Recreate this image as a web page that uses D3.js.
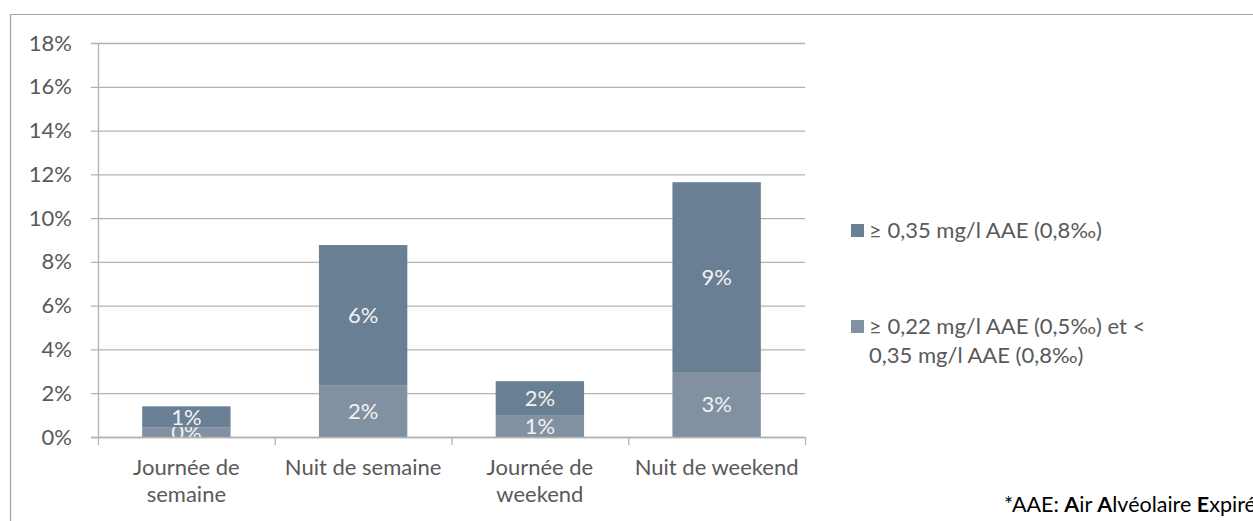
<!DOCTYPE html>
<html lang="fr">
<head>
  <meta charset="UTF-8">
  <title>Taux d'alcoolémie</title>
  <script src="https://d3js.org/d3.v7.min.js"></script>
  <style>
    body {
      margin: 0;
      padding: 0;
      background: #fff;
      font-family: Lato, 'Open Sans', sans-serif;
    }
    svg { display: block; }
  </style>
</head>
<body>
  <div id="chart"></div>
  <script>
    // Données (en %)
    const categories = [["Journée de", "semaine"], ["Nuit de semaine"], ["Journée de", "weekend"], ["Nuit de weekend"]];
    const seriesNames = ["≥ 0,22 mg/l AAE (0,5‰) et < 0,35 mg/l AAE (0,8‰)", "≥ 0,35 mg/l AAE (0,8‰)"];
    const lowValues = [0.45, 2.37, 1.0, 2.97];
    const highValues = [0.95, 6.4, 1.55, 8.67];
    const yTicks = [0, 2, 4, 6, 8, 10, 12, 14, 16, 18];
    const colors = ["#8191a1", "#687f94"];

    const W = 1253, H = 521;
    const margin = { left: 98, right: 805, top: 43, bottom: 437 };
    const fs = 22;

    const svg = d3.select('#chart').append('svg')
      .attr('width', W)
      .attr('height', H);

    // cadre du graphique
    svg.append('path')
      .attr('d', `M10.5,${H} V14.5 H${W}`)
      .attr('fill', 'none')
      .attr('stroke', '#a6a6a6')
      .attr('stroke-width', 1.2);

    const x = d3.scaleBand()
      .domain(d3.range(categories.length))
      .range([margin.left, margin.right])
      .paddingInner(0)
      .paddingOuter(0);

    const y = d3.scaleLinear()
      .domain([0, 18])
      .range([margin.bottom, margin.top]);

    // grille + axe Y
    const yAxis = svg.append('g')
      .attr('transform', `translate(${margin.left},0)`)
      .call(d3.axisLeft(y).tickValues(yTicks).tickFormat(d => d + '%')
        .tickSize(-(margin.right - margin.left)).tickPadding(26));
    yAxis.select('.domain').remove();
    yAxis.selectAll('line')
      .attr('x1', -7)
      .attr('stroke', '#b3b3b3')
      .attr('stroke-width', 1.3);
    yAxis.selectAll('text')
      .attr('fill', '#595959')
      .attr('font-size', fs)
      .attr('font-family', 'Lato, sans-serif');

    svg.append('line')
      .attr('x1', margin.left + 0.5).attr('x2', margin.left + 0.5)
      .attr('y1', margin.top).attr('y2', margin.bottom)
      .attr('stroke', '#b3b3b3')
      .attr('stroke-width', 1.3);

    // empilement
    const stackData = categories.map((c, i) => ({ i, low: lowValues[i], high: highValues[i] }));
    const stacked = d3.stack().keys(['low', 'high'])(stackData);

    svg.append('clipPath').attr('id', 'plot-clip')
      .append('rect')
      .attr('x', margin.left).attr('y', margin.top)
      .attr('width', margin.right - margin.left)
      .attr('height', margin.bottom - margin.top);

    const barW = x.bandwidth() * 0.5;
    const plot = svg.append('g').attr('clip-path', 'url(#plot-clip)');

    stacked.forEach((layer, k) => {
      const g = plot.append('g');
      g.selectAll('rect')
        .data(layer)
        .enter()
        .append('rect')
        .attr('x', d => x(d.data.i) + (x.bandwidth() - barW) / 2)
        .attr('y', d => y(d[1]))
        .attr('width', barW)
        .attr('height', d => y(d[0]) - y(d[1]))
        .attr('fill', colors[k]);
      g.selectAll('text')
        .data(layer)
        .enter()
        .append('text')
        .attr('x', d => x(d.data.i) + x.bandwidth() / 2)
        .attr('y', d => (y(d[0]) + y(d[1])) / 2)
        .attr('dy', '0.36em')
        .attr('text-anchor', 'middle')
        .attr('fill', '#f2f2f2')
        .attr('font-size', fs)
        .text(d => Math.round(d[1] - d[0]) + '%');
    });

    // axe X
    const xAxisG = svg.append('g');
    xAxisG.append('line')
      .attr('x1', margin.left - 7).attr('x2', margin.right)
      .attr('y1', margin.bottom + 0.5).attr('y2', margin.bottom + 0.5)
      .attr('stroke', '#b3b3b3')
      .attr('stroke-width', 1.3);
    const bounds = d3.range(categories.length + 1).map(i => i < categories.length ? x(i) : x.range()[1]);
    xAxisG.selectAll('line.tick')
      .data(bounds)
      .enter()
      .append('line')
      .attr('class', 'tick')
      .attr('x1', d => d + 0.5).attr('x2', d => d + 0.5)
      .attr('y1', margin.bottom).attr('y2', margin.bottom + 8)
      .attr('stroke', '#b3b3b3')
      .attr('stroke-width', 1.3);
    const xl = xAxisG.selectAll('text.cat')
      .data(categories)
      .enter()
      .append('text')
      .attr('class', 'cat')
      .attr('text-anchor', 'middle')
      .attr('fill', '#595959')
      .attr('font-size', fs)
      .attr('transform', (d, i) => `translate(${x(i) + x.bandwidth() / 2},475)`);
    xl.selectAll('tspan')
      .data(d => d)
      .enter()
      .append('tspan')
      .attr('x', 0)
      .attr('dy', (d, j) => j === 0 ? 0 : 27)
      .text(d => d);

    // légende
    const legendItems = [
      { color: colors[1], lines: ["≥ 0,35 mg/l AAE (0,8‰)"], y: 230 },
      { color: colors[0], lines: ["≥ 0,22 mg/l AAE (0,5‰) et <", "0,35 mg/l AAE (0,8‰)"], y: 326 }
    ];
    const leg = svg.append('g');
    legendItems.forEach(item => {
      leg.append('rect')
        .attr('x', 851).attr('y', item.y - 6)
        .attr('width', 13).attr('height', 13)
        .attr('fill', item.color);
      const t = leg.append('text')
        .attr('fill', '#595959')
        .attr('font-size', 22)
        .attr('y', item.y + 8);
      item.lines.forEach((l, j) => {
        t.append('tspan')
          .attr('x', 869)
          .attr('dy', j === 0 ? 0 : 29)
          .text(l);
      });
    });

    // note de bas
    const note = svg.append('text')
      .attr('x', 1004).attr('y', 512)
      .attr('fill', '#000')
      .attr('font-size', 21.5);
    [["*AAE: ", false], ["A", true], ["ir ", false], ["A", true], ["lvéolaire ", false], ["E", true], ["xpiré", false]]
      .forEach(([s, b]) => note.append('tspan').attr('font-weight', b ? 'bold' : 'normal').text(s));
  </script>
</body>
</html>
